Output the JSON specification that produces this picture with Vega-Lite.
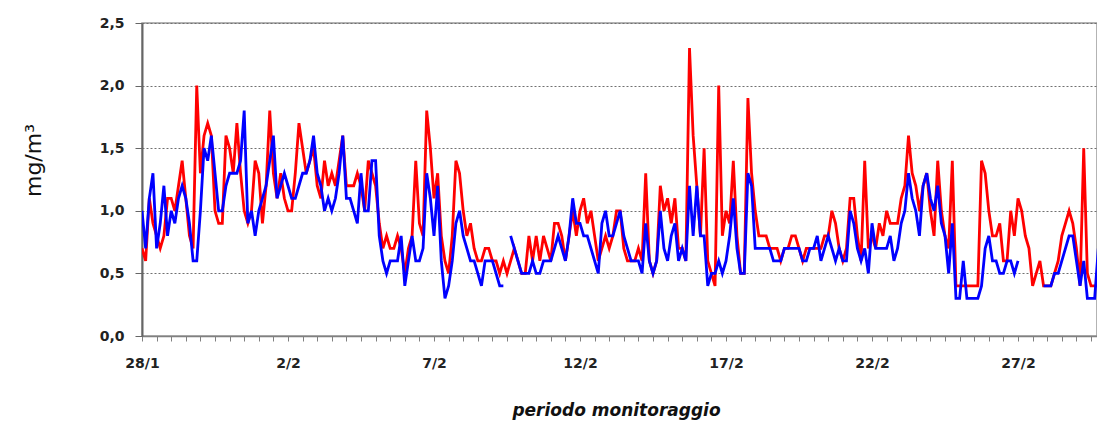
{
"$schema": "https://vega.github.io/schema/vega-lite/v6.json",
"width": 955,
"height": 313,
"autosize": {"type": "none"},
"padding": {"left": 142, "top": 23, "right": 0, "bottom": 85},
"background": "white",
"config": {
  "font": "DejaVu Sans",
  "view": {"stroke": "#9a9a9a", "strokeWidth": 1.5}
},
"data": {"values": [
{"t":"2010-01-28T00:00","r":0.7,"b":1.0},{"t":"2010-01-28T03:00","r":0.6,"b":0.7},{"t":"2010-01-28T06:00","r":1.1,"b":1.1},{"t":"2010-01-28T09:00","r":0.9,"b":1.3},{"t":"2010-01-28T12:00","r":0.8,"b":0.7},{"t":"2010-01-28T15:00","r":0.7,"b":0.9},{"t":"2010-01-28T18:00","r":0.8,"b":1.2},{"t":"2010-01-28T21:00","r":1.1,"b":0.8},
{"t":"2010-01-29T00:00","r":1.1,"b":1.0},{"t":"2010-01-29T03:00","r":1.0,"b":0.9},{"t":"2010-01-29T06:00","r":1.2,"b":1.1},{"t":"2010-01-29T09:00","r":1.4,"b":1.2},{"t":"2010-01-29T12:00","r":1.1,"b":1.1},{"t":"2010-01-29T15:00","r":0.8,"b":0.9},{"t":"2010-01-29T18:00","r":0.7,"b":0.6},{"t":"2010-01-29T21:00","r":2.0,"b":0.6},
{"t":"2010-01-30T00:00","r":1.3,"b":1.0},{"t":"2010-01-30T03:00","r":1.6,"b":1.5},{"t":"2010-01-30T06:00","r":1.7,"b":1.4},{"t":"2010-01-30T09:00","r":1.6,"b":1.6},{"t":"2010-01-30T12:00","r":1.0,"b":1.3},{"t":"2010-01-30T15:00","r":0.9,"b":1.0},{"t":"2010-01-30T18:00","r":0.9,"b":1.0},{"t":"2010-01-30T21:00","r":1.6,"b":1.2},
{"t":"2010-01-31T00:00","r":1.5,"b":1.3},{"t":"2010-01-31T03:00","r":1.3,"b":1.3},{"t":"2010-01-31T06:00","r":1.7,"b":1.3},{"t":"2010-01-31T09:00","r":1.3,"b":1.4},{"t":"2010-01-31T12:00","r":1.0,"b":1.8},{"t":"2010-01-31T15:00","r":0.9,"b":0.9},{"t":"2010-01-31T18:00","r":1.0,"b":1.0},{"t":"2010-01-31T21:00","r":1.4,"b":0.8},
{"t":"2010-02-01T00:00","r":1.3,"b":1.0},{"t":"2010-02-01T03:00","r":0.9,"b":1.1},{"t":"2010-02-01T06:00","r":1.2,"b":1.2},{"t":"2010-02-01T09:00","r":1.8,"b":1.4},{"t":"2010-02-01T12:00","r":1.3,"b":1.6},{"t":"2010-02-01T15:00","r":1.1,"b":1.1},{"t":"2010-02-01T18:00","r":1.3,"b":1.2},{"t":"2010-02-01T21:00","r":1.1,"b":1.3},
{"t":"2010-02-02T00:00","r":1.0,"b":1.2},{"t":"2010-02-02T03:00","r":1.0,"b":1.1},{"t":"2010-02-02T06:00","r":1.3,"b":1.1},{"t":"2010-02-02T09:00","r":1.7,"b":1.2},{"t":"2010-02-02T12:00","r":1.5,"b":1.3},{"t":"2010-02-02T15:00","r":1.3,"b":1.3},{"t":"2010-02-02T18:00","r":1.4,"b":1.4},{"t":"2010-02-02T21:00","r":1.5,"b":1.6},
{"t":"2010-02-03T00:00","r":1.2,"b":1.3},{"t":"2010-02-03T03:00","r":1.1,"b":1.2},{"t":"2010-02-03T06:00","r":1.4,"b":1.0},{"t":"2010-02-03T09:00","r":1.2,"b":1.1},{"t":"2010-02-03T12:00","r":1.3,"b":1.0},{"t":"2010-02-03T15:00","r":1.2,"b":1.1},{"t":"2010-02-03T18:00","r":1.4,"b":1.3},{"t":"2010-02-03T21:00","r":1.6,"b":1.6},
{"t":"2010-02-04T00:00","r":1.2,"b":1.1},{"t":"2010-02-04T03:00","r":1.2,"b":1.1},{"t":"2010-02-04T06:00","r":1.2,"b":1.0},{"t":"2010-02-04T09:00","r":1.3,"b":0.9},{"t":"2010-02-04T12:00","r":1.2,"b":1.3},{"t":"2010-02-04T15:00","r":1.0,"b":1.0},{"t":"2010-02-04T18:00","r":1.4,"b":1.0},{"t":"2010-02-04T21:00","r":1.3,"b":1.4},
{"t":"2010-02-05T00:00","r":1.2,"b":1.4},{"t":"2010-02-05T03:00","r":0.9,"b":0.8},{"t":"2010-02-05T06:00","r":0.7,"b":0.6},{"t":"2010-02-05T09:00","r":0.8,"b":0.5},{"t":"2010-02-05T12:00","r":0.7,"b":0.6},{"t":"2010-02-05T15:00","r":0.7,"b":0.6},{"t":"2010-02-05T18:00","r":0.8,"b":0.6},{"t":"2010-02-05T21:00","r":0.7,"b":0.8},
{"t":"2010-02-06T00:00","r":0.5,"b":0.4},{"t":"2010-02-06T03:00","r":0.7,"b":0.6},{"t":"2010-02-06T06:00","r":0.8,"b":0.8},{"t":"2010-02-06T09:00","r":1.4,"b":0.6},{"t":"2010-02-06T12:00","r":0.9,"b":0.6},{"t":"2010-02-06T15:00","r":0.8,"b":0.7},{"t":"2010-02-06T18:00","r":1.8,"b":1.3},{"t":"2010-02-06T21:00","r":1.5,"b":1.1},
{"t":"2010-02-07T00:00","r":1.1,"b":0.8},{"t":"2010-02-07T03:00","r":1.3,"b":1.2},{"t":"2010-02-07T06:00","r":0.8,"b":0.6},{"t":"2010-02-07T09:00","r":0.6,"b":0.3},{"t":"2010-02-07T12:00","r":0.5,"b":0.4},{"t":"2010-02-07T15:00","r":0.8,"b":0.6},{"t":"2010-02-07T18:00","r":1.4,"b":0.9},{"t":"2010-02-07T21:00","r":1.3,"b":1.0},
{"t":"2010-02-08T00:00","r":1.0,"b":0.8},{"t":"2010-02-08T03:00","r":0.8,"b":0.7},{"t":"2010-02-08T06:00","r":0.9,"b":0.6},{"t":"2010-02-08T09:00","r":0.7,"b":0.6},{"t":"2010-02-08T12:00","r":0.6,"b":0.5},{"t":"2010-02-08T15:00","r":0.6,"b":0.4},{"t":"2010-02-08T18:00","r":0.7,"b":0.6},{"t":"2010-02-08T21:00","r":0.7,"b":0.6},
{"t":"2010-02-09T00:00","r":0.6,"b":0.6},{"t":"2010-02-09T03:00","r":0.6,"b":0.5},{"t":"2010-02-09T06:00","r":0.5,"b":0.4},{"t":"2010-02-09T09:00","r":0.6,"b":0.4},{"t":"2010-02-09T12:00","r":0.5,"b":null},{"t":"2010-02-09T15:00","r":0.6,"b":0.8},{"t":"2010-02-09T18:00","r":0.7,"b":0.7},{"t":"2010-02-09T21:00","r":0.6,"b":0.6},
{"t":"2010-02-10T00:00","r":0.5,"b":0.5},{"t":"2010-02-10T03:00","r":0.5,"b":0.5},{"t":"2010-02-10T06:00","r":0.8,"b":0.5},{"t":"2010-02-10T09:00","r":0.6,"b":0.6},{"t":"2010-02-10T12:00","r":0.8,"b":0.5},{"t":"2010-02-10T15:00","r":0.6,"b":0.5},{"t":"2010-02-10T18:00","r":0.8,"b":0.6},{"t":"2010-02-10T21:00","r":0.7,"b":0.6},
{"t":"2010-02-11T00:00","r":0.6,"b":0.6},{"t":"2010-02-11T03:00","r":0.9,"b":0.7},{"t":"2010-02-11T06:00","r":0.9,"b":0.8},{"t":"2010-02-11T09:00","r":0.8,"b":0.7},{"t":"2010-02-11T12:00","r":0.6,"b":0.6},{"t":"2010-02-11T15:00","r":0.8,"b":0.8},{"t":"2010-02-11T18:00","r":1.0,"b":1.1},{"t":"2010-02-11T21:00","r":0.8,"b":0.9},
{"t":"2010-02-12T00:00","r":1.0,"b":0.9},{"t":"2010-02-12T03:00","r":1.1,"b":0.8},{"t":"2010-02-12T06:00","r":0.9,"b":0.8},{"t":"2010-02-12T09:00","r":1.0,"b":0.7},{"t":"2010-02-12T12:00","r":0.8,"b":0.6},{"t":"2010-02-12T15:00","r":0.6,"b":0.5},{"t":"2010-02-12T18:00","r":0.7,"b":0.9},{"t":"2010-02-12T21:00","r":0.8,"b":1.0},
{"t":"2010-02-13T00:00","r":0.7,"b":0.8},{"t":"2010-02-13T03:00","r":0.8,"b":0.8},{"t":"2010-02-13T06:00","r":1.0,"b":0.9},{"t":"2010-02-13T09:00","r":1.0,"b":1.0},{"t":"2010-02-13T12:00","r":0.7,"b":0.8},{"t":"2010-02-13T15:00","r":0.6,"b":0.7},{"t":"2010-02-13T18:00","r":0.6,"b":0.6},{"t":"2010-02-13T21:00","r":0.6,"b":0.6},
{"t":"2010-02-14T00:00","r":0.7,"b":0.6},{"t":"2010-02-14T03:00","r":0.6,"b":0.5},{"t":"2010-02-14T06:00","r":1.3,"b":0.9},{"t":"2010-02-14T09:00","r":0.6,"b":0.6},{"t":"2010-02-14T12:00","r":0.5,"b":0.5},{"t":"2010-02-14T15:00","r":0.6,"b":0.6},{"t":"2010-02-14T18:00","r":1.2,"b":1.0},{"t":"2010-02-14T21:00","r":1.0,"b":0.7},
{"t":"2010-02-15T00:00","r":1.1,"b":0.6},{"t":"2010-02-15T03:00","r":0.9,"b":0.8},{"t":"2010-02-15T06:00","r":1.1,"b":0.9},{"t":"2010-02-15T09:00","r":0.7,"b":0.6},{"t":"2010-02-15T12:00","r":0.7,"b":0.7},{"t":"2010-02-15T15:00","r":0.6,"b":0.6},{"t":"2010-02-15T18:00","r":2.3,"b":1.2},{"t":"2010-02-15T21:00","r":1.6,"b":0.8},
{"t":"2010-02-16T00:00","r":1.2,"b":1.2},{"t":"2010-02-16T03:00","r":0.8,"b":0.8},{"t":"2010-02-16T06:00","r":1.5,"b":0.8},{"t":"2010-02-16T09:00","r":0.6,"b":0.4},{"t":"2010-02-16T12:00","r":0.5,"b":0.5},{"t":"2010-02-16T15:00","r":0.4,"b":0.5},{"t":"2010-02-16T18:00","r":2.0,"b":0.6},{"t":"2010-02-16T21:00","r":0.8,"b":0.5},
{"t":"2010-02-17T00:00","r":1.0,"b":0.6},{"t":"2010-02-17T03:00","r":0.9,"b":0.8},{"t":"2010-02-17T06:00","r":1.4,"b":1.1},{"t":"2010-02-17T09:00","r":0.8,"b":0.7},{"t":"2010-02-17T12:00","r":0.5,"b":0.5},{"t":"2010-02-17T15:00","r":0.5,"b":0.5},{"t":"2010-02-17T18:00","r":1.9,"b":1.3},{"t":"2010-02-17T21:00","r":1.3,"b":1.2},
{"t":"2010-02-18T00:00","r":1.0,"b":0.7},{"t":"2010-02-18T03:00","r":0.8,"b":0.7},{"t":"2010-02-18T06:00","r":0.8,"b":0.7},{"t":"2010-02-18T09:00","r":0.8,"b":0.7},{"t":"2010-02-18T12:00","r":0.7,"b":0.7},{"t":"2010-02-18T15:00","r":0.7,"b":0.6},{"t":"2010-02-18T18:00","r":0.7,"b":0.6},{"t":"2010-02-18T21:00","r":0.6,"b":0.6},
{"t":"2010-02-19T00:00","r":0.7,"b":0.7},{"t":"2010-02-19T03:00","r":0.7,"b":0.7},{"t":"2010-02-19T06:00","r":0.8,"b":0.7},{"t":"2010-02-19T09:00","r":0.8,"b":0.7},{"t":"2010-02-19T12:00","r":0.7,"b":0.7},{"t":"2010-02-19T15:00","r":0.6,"b":0.6},{"t":"2010-02-19T18:00","r":0.7,"b":0.6},{"t":"2010-02-19T21:00","r":0.7,"b":0.7},
{"t":"2010-02-20T00:00","r":0.7,"b":0.7},{"t":"2010-02-20T03:00","r":0.7,"b":0.8},{"t":"2010-02-20T06:00","r":0.7,"b":0.6},{"t":"2010-02-20T09:00","r":0.8,"b":0.7},{"t":"2010-02-20T12:00","r":0.8,"b":0.8},{"t":"2010-02-20T15:00","r":1.0,"b":0.7},{"t":"2010-02-20T18:00","r":0.9,"b":0.6},{"t":"2010-02-20T21:00","r":0.7,"b":0.7},
{"t":"2010-02-21T00:00","r":0.6,"b":0.6},{"t":"2010-02-21T03:00","r":0.7,"b":0.6},{"t":"2010-02-21T06:00","r":1.1,"b":1.0},{"t":"2010-02-21T09:00","r":1.1,"b":0.9},{"t":"2010-02-21T12:00","r":0.8,"b":0.7},{"t":"2010-02-21T15:00","r":0.6,"b":0.6},{"t":"2010-02-21T18:00","r":1.4,"b":0.7},{"t":"2010-02-21T21:00","r":0.7,"b":0.5},
{"t":"2010-02-22T00:00","r":0.8,"b":0.9},{"t":"2010-02-22T03:00","r":0.7,"b":0.7},{"t":"2010-02-22T06:00","r":0.9,"b":0.7},{"t":"2010-02-22T09:00","r":0.8,"b":0.7},{"t":"2010-02-22T12:00","r":1.0,"b":0.7},{"t":"2010-02-22T15:00","r":0.9,"b":0.8},{"t":"2010-02-22T18:00","r":0.9,"b":0.6},{"t":"2010-02-22T21:00","r":0.9,"b":0.7},
{"t":"2010-02-23T00:00","r":1.1,"b":0.9},{"t":"2010-02-23T03:00","r":1.2,"b":1.0},{"t":"2010-02-23T06:00","r":1.6,"b":1.3},{"t":"2010-02-23T09:00","r":1.3,"b":1.1},{"t":"2010-02-23T12:00","r":1.2,"b":1.0},{"t":"2010-02-23T15:00","r":1.0,"b":0.8},{"t":"2010-02-23T18:00","r":1.2,"b":1.2},{"t":"2010-02-23T21:00","r":1.3,"b":1.3},
{"t":"2010-02-24T00:00","r":1.0,"b":1.1},{"t":"2010-02-24T03:00","r":0.8,"b":1.0},{"t":"2010-02-24T06:00","r":1.4,"b":1.2},{"t":"2010-02-24T09:00","r":1.0,"b":0.9},{"t":"2010-02-24T12:00","r":0.8,"b":0.8},{"t":"2010-02-24T15:00","r":0.7,"b":0.5},{"t":"2010-02-24T18:00","r":1.4,"b":0.9},{"t":"2010-02-24T21:00","r":0.4,"b":0.3},
{"t":"2010-02-25T00:00","r":0.4,"b":0.3},{"t":"2010-02-25T03:00","r":0.4,"b":0.6},{"t":"2010-02-25T06:00","r":0.4,"b":0.3},{"t":"2010-02-25T09:00","r":0.4,"b":0.3},{"t":"2010-02-25T12:00","r":0.4,"b":0.3},{"t":"2010-02-25T15:00","r":0.4,"b":0.3},{"t":"2010-02-25T18:00","r":1.4,"b":0.4},{"t":"2010-02-25T21:00","r":1.3,"b":0.7},
{"t":"2010-02-26T00:00","r":1.0,"b":0.8},{"t":"2010-02-26T03:00","r":0.8,"b":0.6},{"t":"2010-02-26T06:00","r":0.8,"b":0.6},{"t":"2010-02-26T09:00","r":0.9,"b":0.5},{"t":"2010-02-26T12:00","r":0.6,"b":0.5},{"t":"2010-02-26T15:00","r":0.6,"b":0.6},{"t":"2010-02-26T18:00","r":1.0,"b":0.6},{"t":"2010-02-26T21:00","r":0.8,"b":0.5},
{"t":"2010-02-27T00:00","r":1.1,"b":0.6},{"t":"2010-02-27T03:00","r":1.0,"b":null},{"t":"2010-02-27T06:00","r":0.8,"b":null},{"t":"2010-02-27T09:00","r":0.7,"b":null},{"t":"2010-02-27T12:00","r":0.4,"b":null},{"t":"2010-02-27T15:00","r":0.5,"b":null},{"t":"2010-02-27T18:00","r":0.6,"b":null},{"t":"2010-02-27T21:00","r":0.4,"b":0.4},
{"t":"2010-02-28T00:00","r":0.4,"b":0.4},{"t":"2010-02-28T03:00","r":0.4,"b":0.4},{"t":"2010-02-28T06:00","r":0.5,"b":0.5},{"t":"2010-02-28T09:00","r":0.6,"b":0.5},{"t":"2010-02-28T12:00","r":0.8,"b":0.6},{"t":"2010-02-28T15:00","r":0.9,"b":0.7},{"t":"2010-02-28T18:00","r":1.0,"b":0.8},{"t":"2010-02-28T21:00","r":0.9,"b":0.8},
{"t":"2010-03-01T00:00","r":0.7,"b":0.6},{"t":"2010-03-01T03:00","r":0.4,"b":0.4},{"t":"2010-03-01T06:00","r":1.5,"b":0.6},{"t":"2010-03-01T09:00","r":0.5,"b":0.3},{"t":"2010-03-01T12:00","r":0.4,"b":0.3},{"t":"2010-03-01T15:00","r":0.4,"b":0.3},{"t":"2010-03-01T18:00","r":0.4,"b":0.7}
]},
"transform": [{"fold": ["r", "b"], "as": ["s", "v"]}],
"encoding": {
  "x": {
    "field": "t", "type": "temporal",
    "scale": {"domain": [{"year": 2010, "month": 1, "date": 28}, {"year": 2010, "month": 3, "date": 1, "hours": 16, "minutes": 55}], "nice": false},
    "axis": {
      "title": "periodo monitoraggio",
      "titleFont": "DejaVu Sans", "titleFontStyle": "italic", "titleFontWeight": "bold", "titleFontSize": 17, "titleColor": "#111111",
      "titleX": 474, "titleY": 74, "titleBaseline": "middle", "titleAlign": "center",
      "grid": false,
      "tickCount": 65,
      "tickSize": 5, "tickColor": "#808080", "tickWidth": 1,
      "domainColor": "#808080", "domainWidth": 1.5,
      "labelOverlap": false, "labelFlush": false,
      "labelFont": "DejaVu Sans", "labelFontWeight": "bold", "labelFontSize": 14, "labelColor": "#222222", "labelPadding": 15,
      "labelExpr": "hours(datum.value) == 0 && ((month(datum.value) == 0 && date(datum.value) == 28) || (month(datum.value) == 1 && date(datum.value) % 5 == 2)) ? timeFormat(datum.value, '%-d/%-m') : ''"
    }
  },
  "y": {
    "field": "v", "type": "quantitative",
    "scale": {"domain": [0, 2.5], "nice": false},
    "axis": {
      "title": "mg/m³",
      "titleFont": "DejaVu Sans", "titleFontWeight": "normal", "titleFontSize": 22, "titleColor": "#111111",
      "titleAngle": 270, "titleX": -109, "titleY": 137, "titleBaseline": "middle", "titleAlign": "center",
      "values": [0, 0.5, 1, 1.5, 2, 2.5],
      "grid": true, "gridDash": [2, 2], "gridColor": "#707070", "gridWidth": 1,
      "tickSize": 7, "tickColor": "#666666",
      "domainColor": "#666666", "domainWidth": 2,
      "labelFont": "DejaVu Sans", "labelFontWeight": "bold", "labelFontSize": 14, "labelColor": "#222222", "labelPadding": 11,
      "labelExpr": "replace(format(datum.value, '.1f'), '.', ',')"
    }
  }
},
"layer": [
  {"transform": [{"filter": "datum.s === 'r'"}], "mark": {"type": "line", "color": "#ff0000", "strokeWidth": 2.8, "clip": true}},
  {"transform": [{"filter": "datum.s === 'b'"}], "mark": {"type": "line", "color": "#0000ff", "strokeWidth": 2.8, "clip": true}}
]
}
